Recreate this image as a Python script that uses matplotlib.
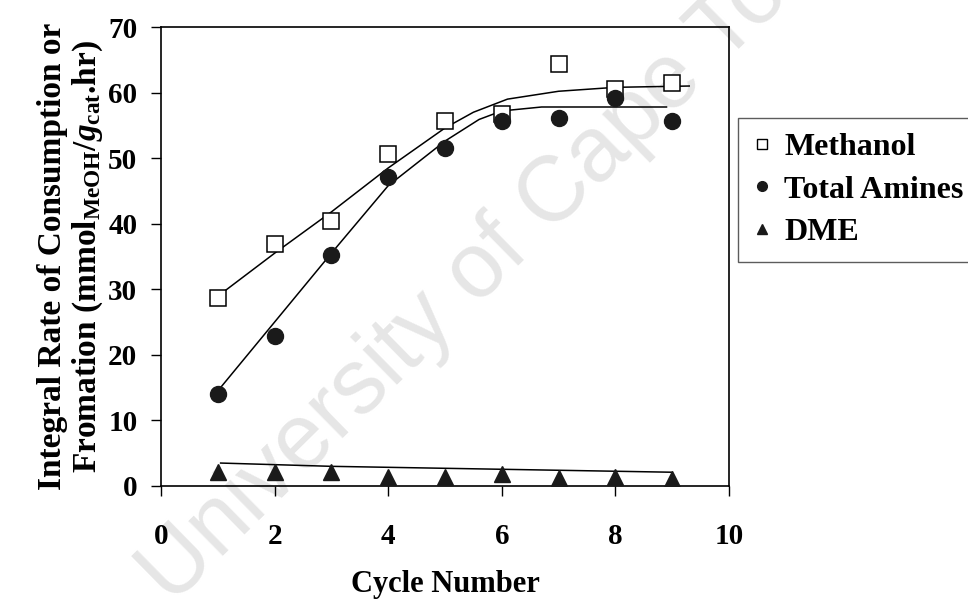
import numpy as np
import matplotlib
matplotlib.use("Agg")
import matplotlib.pyplot as plt
from matplotlib.lines import Line2D

# =============================
# DATA
# =============================

cycles = [1, 2, 3, 4, 5, 6, 7, 8, 9]

methanol = [28.7, 36.9, 40.4, 50.7, 55.6, 56.8, 64.4, 60.6, 61.5]
total_amines = [14.1, 22.8, 35.2, 47.1, 51.6, 55.6, 56.1, 59.1, 55.6]
dme = [2.2, 2.1, 2.1, 1.4, 1.4, 1.8, 1.2, 1.3, 1.0]

# hand-fitted trend curves
methanol_trend_x = [1.1, 2, 3, 4, 5, 5.5, 6.1, 7, 8, 9.3]
methanol_trend_y = [29.6, 35.5, 41.8, 48.5, 54.6, 57.0, 59.0, 60.2, 60.8, 61.0]

amines_trend_x = [1.0, 2, 3, 4, 5, 5.6, 6.0, 6.7, 8.9]
amines_trend_y = [14.5, 25.0, 35.5, 45.8, 52.6, 55.9, 57.2, 57.8, 57.8]

dme_trend_x = [1.05, 3, 9]
dme_trend_y = [3.5, 3.0, 2.1]

x_ticks = [0, 2, 4, 6, 8, 10]
y_ticks = [0, 10, 20, 30, 40, 50, 60, 70]

series_labels = ["Methanol", "Total Amines", "DME"]

# =============================
# STYLE
# =============================

plt.rcParams["font.family"] = "Liberation Serif"
plt.rcParams["font.weight"] = "bold"
plt.rcParams["axes.labelweight"] = "bold"
plt.rcParams["mathtext.fontset"] = "custom"
plt.rcParams["mathtext.rm"] = "Liberation Serif:bold"
plt.rcParams["mathtext.bf"] = "Liberation Serif:bold"
plt.rcParams["mathtext.it"] = "Liberation Serif:bold:italic"

W, H = 968, 605
fig = plt.figure(figsize=(W / 100, H / 100), dpi=100)

# watermark behind everything
fig.text(172 / W, 1 - 606 / H, "University of Cape Town",
         rotation=44.5, rotation_mode="anchor", ha="left", va="baseline",
         fontsize=66, color="#e6e6e6", family="Liberation Sans",
         fontweight="normal", zorder=-1)

ax = fig.add_axes([161 / W, 1 - 486 / H, (729 - 161) / W, (486 - 27) / H])
ax.patch.set_alpha(0)

line_kw = dict(color="black", linewidth=1.1, zorder=2)
ax.plot(methanol_trend_x, methanol_trend_y, **line_kw)
ax.plot(amines_trend_x, amines_trend_y, **line_kw)
ax.plot(dme_trend_x, dme_trend_y, **line_kw)

ax.plot(cycles, methanol, linestyle="none", marker="s", markersize=12,
        markerfacecolor="white", markeredgecolor="black",
        markeredgewidth=1.1, zorder=3)
ax.plot(cycles, total_amines, linestyle="none", marker="o", markersize=11.5,
        markerfacecolor="#1a1a1a", markeredgecolor="#1a1a1a", zorder=4)
ax.plot(cycles, dme, linestyle="none", marker="^", markersize=11,
        markerfacecolor="#1a1a1a", markeredgecolor="#1a1a1a", zorder=4)

ax.set_xlim(0, 10)
ax.set_ylim(0, 70)
ax.set_xticks(x_ticks)
ax.set_yticks(y_ticks)
ax.tick_params(direction="out", length=7, width=1.0, labelsize=21)
ax.tick_params(axis="x", pad=20)
ax.tick_params(axis="y", pad=10)
for spine in ax.spines.values():
    spine.set_linewidth(1.2)

ax.set_xlabel("Cycle Number", fontsize=22, labelpad=14)
ax.set_ylabel("Integral Rate of Consumption or\n"
              r"Fromation (mmol$_{\mathrm{MeOH}}$/$\mathit{g}_{\mathrm{cat}}$.hr)",
              fontsize=24, labelpad=2, linespacing=1.1)

handles = [
    Line2D([], [], linestyle="none", marker="s", markersize=7,
           markerfacecolor="white", markeredgecolor="black", markeredgewidth=1.0),
    Line2D([], [], linestyle="none", marker="o", markersize=7,
           markerfacecolor="#1a1a1a", markeredgecolor="#1a1a1a"),
    Line2D([], [], linestyle="none", marker="^", markersize=7,
           markerfacecolor="#1a1a1a", markeredgecolor="#1a1a1a"),
]
leg = fig.legend(handles, series_labels, loc="upper left",
                 bbox_to_anchor=(738 / W, 1 - 118 / H), fontsize=23,
                 frameon=True, fancybox=False, handlelength=0.6,
                 handletextpad=0.4, borderpad=0.45, labelspacing=0.42,
                 borderaxespad=0)
leg.get_frame().set_edgecolor("#333333")
leg.get_frame().set_linewidth(1.0)

fig.savefig("out.png", dpi=100)
